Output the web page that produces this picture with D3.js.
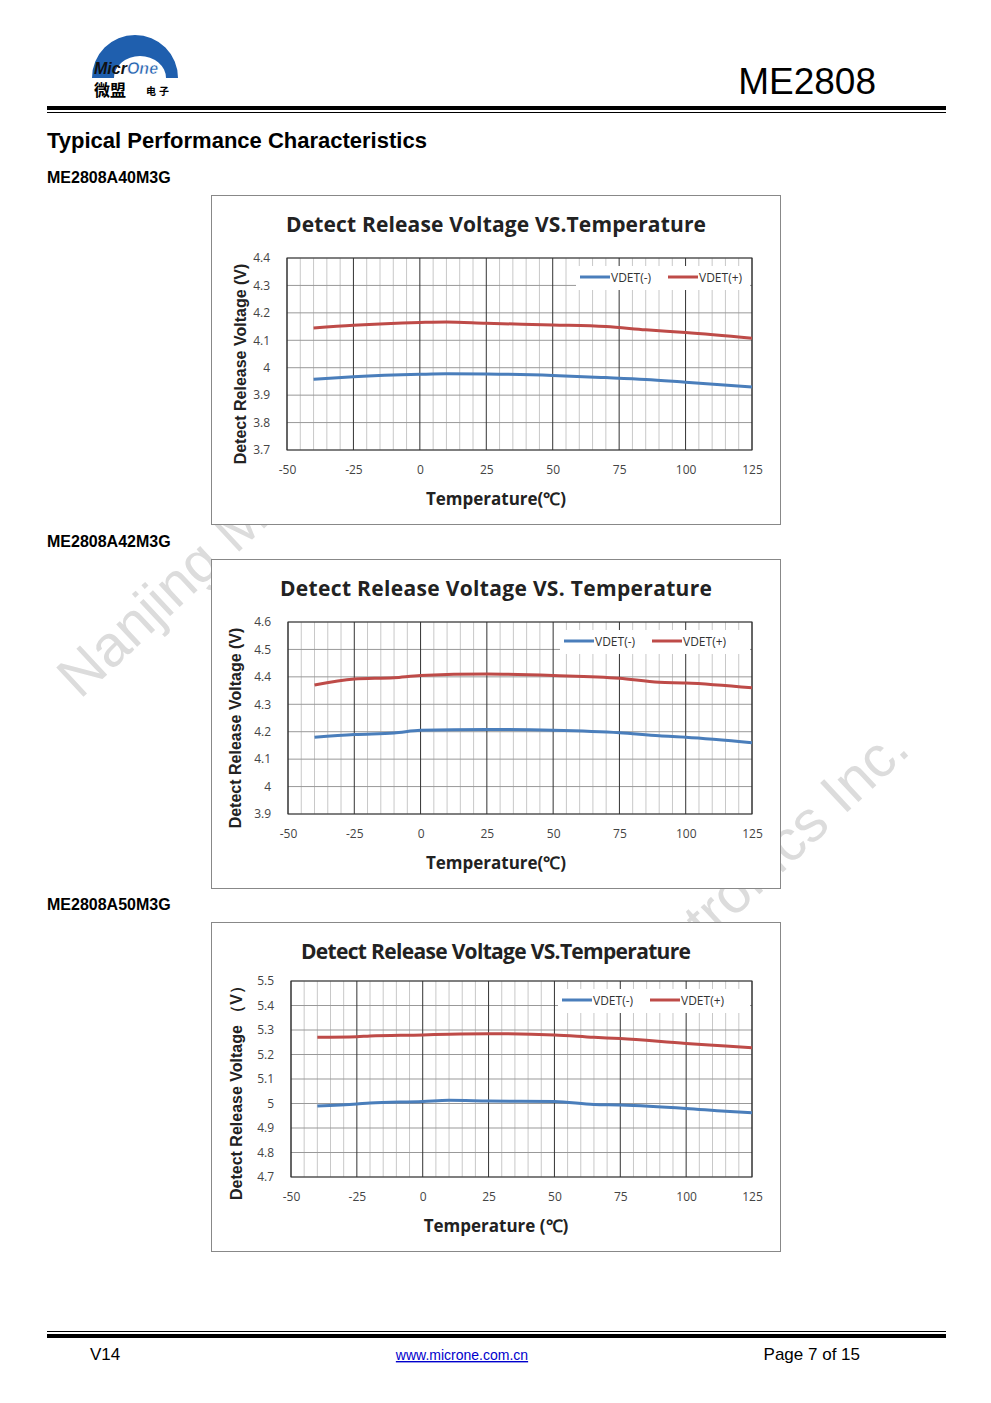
<!DOCTYPE html>
<html><head><meta charset="utf-8">
<script src="https://cdn.jsdelivr.net/npm/d3@7"></script>
<style>body{margin:0;background:#fff}</style>
</head><body><svg id="page" width="991" height="1403"></svg>
<script>
'use strict';

// data
const xTicks = [-50, -25, 0, 25, 50, 75, 100, 125];

const temps1 = [-40, -25, 0, 10, 25, 50, 70, 85, 100, 125];
const vdetMinus1 = [3.958, 3.967, 3.976, 3.978, 3.977, 3.972, 3.964, 3.957, 3.947, 3.930];
const vdetPlus1 = [4.145, 4.155, 4.165, 4.167, 4.162, 4.156, 4.150, 4.138, 4.128, 4.107];
const yTicks1 = [3.7, 3.8, 3.9, 4, 4.1, 4.2, 4.3, 4.4];

const temps2 = [-40, -25, -10, 0, 25, 50, 75, 90, 100, 125];
const vdetMinus2 = [4.180, 4.190, 4.195, 4.205, 4.208, 4.205, 4.196, 4.185, 4.180, 4.160];
const vdetPlus2 = [4.370, 4.392, 4.397, 4.405, 4.410, 4.405, 4.395, 4.380, 4.378, 4.360];
const yTicks2 = [3.9, 4, 4.1, 4.2, 4.3, 4.4, 4.5, 4.6];

const temps3 = [-40, -25, -20, 0, 10, 25, 50, 65, 75, 100, 115, 125];
const vdetMinus3 = [4.990, 4.998, 5.002, 5.008, 5.013, 5.010, 5.008, 4.996, 4.994, 4.980, 4.968, 4.962];
const vdetPlus3 = [5.270, 5.272, 5.276, 5.280, 5.283, 5.285, 5.280, 5.270, 5.265, 5.245, 5.235, 5.228];
const yTicks3 = [4.7, 4.8, 4.9, 5, 5.1, 5.2, 5.3, 5.4, 5.5];

const svg = d3.select('#page');
const cjk = '"Noto Sans CJK SC", sans-serif';
const tickFmt = d => String(d);

// header
const logo = svg.append('g');
logo.append('path')
	.attr('d', 'M92,78 A43,43 0 0 1 178,78 L166,78 A26,22 0 0 0 114,78 Z')
	.attr('fill', '#1f5fae');
logo.append('text').attr('x', 94).attr('y', 74).attr('font-family', 'Arial, sans-serif')
	.attr('font-weight', 'bold').attr('font-style', 'italic').attr('font-size', 16)
	.html('<tspan fill="#111">Micr</tspan><tspan fill="#1f5fae" stroke="#fff" stroke-width="0.5">One</tspan>');
logo.append('text').attr('x', 94).attr('y', 96).attr('font-family', cjk)
	.attr('font-weight', 'bold').attr('font-size', 16).text('微盟');
logo.append('text').attr('x', 146).attr('y', 95).attr('font-family', cjk)
	.attr('font-weight', 'bold').attr('font-size', 10).attr('letter-spacing', 3).text('电子');
svg.append('text').attr('x', 876).attr('y', 94).attr('text-anchor', 'end')
	.attr('font-family', 'Arial, sans-serif').attr('font-size', 37).text('ME2808');
svg.append('rect').attr('x', 47).attr('y', 106).attr('width', 899).attr('height', 4);
svg.append('rect').attr('x', 47).attr('y', 112).attr('width', 899).attr('height', 1);

svg.append('text').attr('x', 47).attr('y', 148).attr('font-family', 'Arial, sans-serif')
	.attr('font-weight', 'bold').attr('font-size', 22).text('Typical Performance Characteristics');

// watermark (mostly hidden behind chart boxes)
svg.append('text').attr('transform', 'translate(80,700) rotate(-43)')
	.attr('font-family', 'Arial, sans-serif').attr('font-size', 58).attr('fill', '#dcdcdc')
	.text('Nanjing Micro One');
svg.append('text').attr('transform', 'translate(912,752) rotate(-43)').attr('text-anchor', 'end')
	.attr('font-family', 'Arial, sans-serif').attr('font-size', 58).attr('fill', '#dcdcdc')
	.text('Electronics Inc.');

const drawChart = (cfg) => {
	svg.append('text').attr('x', 47).attr('y', cfg.boxTop - 12)
		.attr('font-family', 'Arial, sans-serif').attr('font-weight', 'bold')
		.attr('font-size', 16).text(cfg.part);
	svg.append('rect').attr('x', 211.5).attr('y', cfg.boxTop + 0.5)
		.attr('width', 569).attr('height', 329)
		.attr('fill', '#fff').attr('stroke', '#888');

	const x = d3.scaleLinear().domain([-50, 125]).range([cfg.left, 752]);
	const y = d3.scaleLinear().domain(d3.extent(cfg.yTicks)).range([cfg.bottom, cfg.top]);
	const g = svg.append('g');

	// minor vertical grid
	g.selectAll('.minor').data(d3.range(-45, 125, 5).filter(v => v % 25 !== 0)).enter()
		.append('line').attr('x1', d => x(d)).attr('x2', d => x(d))
		.attr('y1', cfg.top).attr('y2', cfg.bottom).attr('stroke', '#c8c8c8');
	// horizontal grid
	g.selectAll('.hg').data(cfg.yTicks).enter().append('line')
		.attr('x1', x(-50)).attr('x2', x(125))
		.attr('y1', d => y(d)).attr('y2', d => y(d)).attr('stroke', '#999');
	// major vertical grid
	g.selectAll('.major').data(xTicks).enter().append('line')
		.attr('x1', d => x(d)).attr('x2', d => x(d))
		.attr('y1', cfg.top).attr('y2', cfg.bottom).attr('stroke', '#333');
	g.append('rect').attr('x', x(-50)).attr('y', cfg.top)
		.attr('width', x(125) - x(-50)).attr('height', cfg.bottom - cfg.top)
		.attr('fill', 'none').attr('stroke', '#333');

	const yAxis = g.append('g').attr('transform', `translate(${x(-50) - 14},0)`)
		.call(d3.axisLeft(y).tickValues(cfg.yTicks).tickSize(0).tickFormat(tickFmt));
	yAxis.select('.domain').remove();
	yAxis.selectAll('text').attr('font-family', '"Open Sans", sans-serif').attr('font-size', 12).attr('fill', '#444');
	const xAxis = g.append('g').attr('transform', `translate(0,${cfg.bottom + 12})`)
		.call(d3.axisBottom(x).tickValues(xTicks).tickSize(0).tickFormat(tickFmt));
	xAxis.select('.domain').remove();
	xAxis.selectAll('text').attr('font-family', '"Open Sans", sans-serif').attr('font-size', 12).attr('fill', '#444');

	// legend background
	const lx = cfg.legendX;
	g.append('rect').attr('x', lx).attr('y', cfg.top + 8).attr('width', 750 - lx).attr('height', 24).attr('fill', '#fff');
	const leg = [['VDET(-)', '#4a7ebb', lx + 4], ['VDET(+)', '#be4b48', lx + 92]];
	leg.forEach(([t, c, px]) => {
		g.append('line').attr('x1', px).attr('x2', px + 30)
			.attr('y1', cfg.top + 19).attr('y2', cfg.top + 19).attr('stroke', c).attr('stroke-width', 3);
		g.append('text').attr('x', px + 31).attr('y', cfg.top + 24)
			.attr('font-family', '"Open Sans", sans-serif').attr('font-size', 12).attr('fill', '#333').text(t);
	});

	const line = d3.line().x(d => x(d[0])).y(d => y(d[1])).curve(d3.curveMonotoneX);
	[[cfg.minus, '#4a7ebb'], [cfg.plus, '#be4b48']].forEach(([vals, c]) => {
		g.append('path').datum(cfg.temps.map((t, i) => [t, vals[i]]))
			.attr('d', line).attr('fill', 'none').attr('stroke', c).attr('stroke-width', 3);
	});

	svg.append('text').attr('x', 496).attr('y', cfg.boxTop + 37).attr('text-anchor', 'middle')
		.attr('font-family', '"Open Sans", sans-serif').attr('font-weight', 'bold')
		.attr('font-size', 21).attr('fill', '#222').attr('textLength', cfg.titleLen).text(cfg.title);
	svg.append('text').attr('x', 496).attr('y', cfg.bottom + 55).attr('text-anchor', 'middle')
		.attr('font-family', '"Open Sans", sans-serif').attr('font-weight', 'bold')
		.attr('font-size', 17).attr('fill', '#222').text(cfg.xTitle);
	svg.append('text')
		.attr('transform', `translate(${cfg.yTitleX},${(cfg.top + cfg.bottom) / 2 + 10}) rotate(-90)`)
		.attr('text-anchor', 'middle').attr('font-family', 'Arial, sans-serif')
		.attr('font-weight', 'bold').attr('font-size', 16).attr('fill', '#222').text(cfg.yTitle);
};

drawChart({part: 'ME2808A40M3G', boxTop: 195, left: 287, top: 258, bottom: 450, legendX: 576, titleLen: 420,
	yTicks: yTicks1, temps: temps1, minus: vdetMinus1, plus: vdetPlus1, yTitleX: 246,
	title: 'Detect Release Voltage VS.Temperature', xTitle: 'Temperature(℃)', yTitle: 'Detect Release Voltage (V)'});
drawChart({part: 'ME2808A42M3G', boxTop: 559, left: 288, top: 622, bottom: 814, legendX: 560, titleLen: 432,
	yTicks: yTicks2, temps: temps2, minus: vdetMinus2, plus: vdetPlus2, yTitleX: 241,
	title: 'Detect Release Voltage  VS. Temperature', xTitle: 'Temperature(℃)', yTitle: 'Detect Release Voltage (V)'});
drawChart({part: 'ME2808A50M3G', boxTop: 922, left: 291, top: 981, bottom: 1177, legendX: 558, titleLen: 390,
	yTicks: yTicks3, temps: temps3, minus: vdetMinus3, plus: vdetPlus3, yTitleX: 242,
	title: 'Detect Release Voltage VS.Temperature', xTitle: 'Temperature (℃)', yTitle: 'Detect Release Voltage （V）'});

// footer
svg.append('rect').attr('x', 47).attr('y', 1331).attr('width', 899).attr('height', 1);
svg.append('rect').attr('x', 47).attr('y', 1334).attr('width', 899).attr('height', 4);
svg.append('text').attr('x', 90).attr('y', 1360).attr('font-family', 'Arial, sans-serif').attr('font-size', 17).text('V14');
svg.append('text').attr('x', 462).attr('y', 1360).attr('text-anchor', 'middle').attr('font-family', 'Arial, sans-serif')
	.attr('font-size', 14).attr('fill', '#00c').attr('text-decoration', 'underline').text('www.microne.com.cn');
svg.append('text').attr('x', 860).attr('y', 1360).attr('text-anchor', 'end').attr('font-family', 'Arial, sans-serif')
	.attr('font-size', 17).text('Page 7 of 15');
</script></body></html>
